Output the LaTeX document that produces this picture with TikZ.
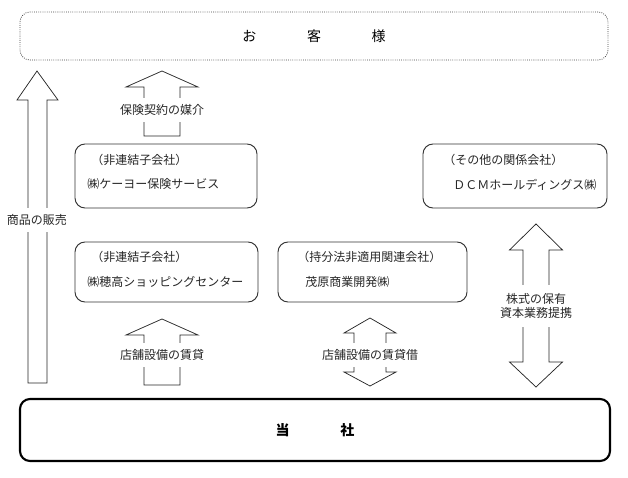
\documentclass[tikz,border=0pt]{standalone}
\usepackage{fontspec}
\setmainfont{Noto Sans CJK JP}
\usetikzlibrary{arrows.meta}

\tikzset{
  kaisha/.style={draw=black!80, line width=0.7pt, rounded corners=7.5pt},
  yaji/.style={draw=black!85, line width=0.55pt, line join=miter},
  moji/.style={font=\fontsize{9}{10.5}\selectfont, text=black!85, inner sep=0pt},
  nuki/.style={moji, fill=white, align=center, inner xsep=1pt, inner ysep=4.5pt},
}

\begin{document}
\begin{tikzpicture}[x=0.75pt, y=-0.75pt]
 \useasboundingbox (0,0) rectangle (628,478);

 % 枠
 \node (kokyaku) at (314,36) [draw=black!75, densely dotted, line width=0.6pt, rounded corners=7.5pt,
   minimum width=441pt, minimum height=36pt, font=\fontsize{10.5}{12}\selectfont]
   {お\hspace{38pt}客\hspace{38pt}様}; % お客様
 \node (tosha) at (315,430) [draw, line width=1.6pt, rounded corners=7.5pt,
   minimum width=442.5pt, minimum height=46.5pt, font=\fontsize{10.5}{12}\selectfont\bfseries]
   {当\hspace{38pt}社}; % 当社
 \node (hoken) at (166,176) [kaisha, minimum width=136.5pt, minimum height=48pt] {};
 \node (hotaka) at (166.5,272) [kaisha, minimum width=137.25pt, minimum height=45pt] {};
 \node (mobara) at (372.5,272) [kaisha, minimum width=141.75pt, minimum height=45pt] {};
 \node (dcm) at (515,176) [kaisha, minimum width=138pt, minimum height=48pt] {};

 % 枠の中の文字
 \node (hoken1) at (91,160) [moji, anchor=west] {（非連結子会社）};
 \node (hoken2) at (87,184) [moji, anchor=west] {㈱ケーヨー保険サービス};
 \node (hotaka1) at (91,257) [moji, anchor=west] {（非連結子会社）};
 \node (hotaka2) at (87,282) [moji, anchor=west] {㈱穂高ショッピングセンター};
 \node (mobara1) at (297,257) [moji, anchor=west] {（持分法非適用関連会社）};
 \node (mobara2) at (305,282) [moji, anchor=west] {茂原商業開発㈱};
 \node (dcm1) at (443,160) [moji, anchor=west] {（その他の関係会社）};
 \node (dcm2) at (453,185) [moji, anchor=west] {ＤＣＭホールディングス㈱};

 % 矢印
 \draw [yaji] (28,383) -- (28,100) -- (17,100) -- (37,71) -- (58,100) -- (47,100) -- (47,383) -- cycle;
 \draw [yaji] (144,136) -- (144,87) -- (126,87) -- (162,71) -- (198,87) -- (180,87) -- (180,136) -- cycle;
 \draw [yaji] (144,385) -- (144,335) -- (126,335) -- (162,319) -- (198,335) -- (180,335) -- (180,385) -- cycle;
 \draw [yaji] (354,333) -- (344,333) -- (370,318) -- (396,333) -- (386,333) -- (386,372)
   -- (396,372) -- (370,386) -- (344,372) -- (354,372) -- cycle;
 \draw [yaji] (523,250) -- (509.5,250) -- (536,224) -- (562.5,250) -- (549,250) -- (549,362)
   -- (562.5,362) -- (536,387) -- (509.5,362) -- (523,362) -- cycle;

 % 矢印の文字
 \node (hanbai) at (37,220) [nuki] {商品の販売};
 \node (baikai) at (162,110) [nuki] {保険契約の媒介};
 \node (chintai) at (162,355) [nuki] {店舗設備の賃貸};
 \node (shaku) at (370,355) [nuki] {店舗設備の賃貸借};
 \node (teikei) at (536,306) [nuki, inner ysep=6pt] {株式の保有\\資本業務提携};
\end{tikzpicture}
\end{document}
